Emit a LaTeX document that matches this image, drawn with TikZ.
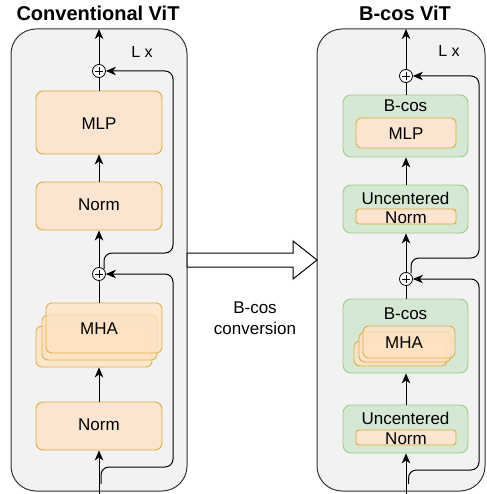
\documentclass[tikz,border=0pt]{standalone}
\usepackage{fontspec}
\setmainfont{Liberation Sans}
\usetikzlibrary{arrows.meta}
\definecolor{contfill}{HTML}{F2F2F2}
\definecolor{contdraw}{HTML}{333333}
\definecolor{ofill}{HTML}{FBE5D1}
\definecolor{odraw}{HTML}{E0A93A}
\definecolor{stackfill}{HTML}{FFE2C2}
\definecolor{gfill}{HTML}{D5E8D4}
\definecolor{gdraw}{HTML}{9CCB86}
\tikzset{
  cont/.style={draw=contdraw, fill=contfill, line width=1pt, rounded corners=25pt},
  obox/.style={draw=odraw, fill=ofill, line width=0.9pt, rounded corners=7pt, inner sep=0pt},
  sbox/.style={draw=odraw, fill=stackfill, fill opacity=0.75, draw opacity=0.9, line width=0.9pt, rounded corners=6pt, inner sep=0pt},
  gbox/.style={draw=gdraw, fill=gfill, line width=0.9pt, rounded corners=8pt, inner sep=0pt},
  ibox/.style={draw=odraw, fill=ofill, line width=0.9pt, rounded corners=3pt, inner sep=0pt},
  txt/.style={font=\fontsize{17}{20}\selectfont, inner sep=0pt, text height=12.2pt, text depth=0pt},
  ttl/.style={font=\fontsize{20}{24}\selectfont\bfseries, inner sep=0pt, text height=14.4pt, text depth=0pt},
  lx/.style={font=\fontsize{16}{19}\selectfont, inner sep=0pt, text height=11.5pt, text depth=0pt},
  plus/.style={circle, draw=black, fill=white, line width=0.8pt, minimum size=13pt, inner sep=0pt,
    path picture={\draw[line width=0.8pt] ([xshift=-4pt]path picture bounding box.center) -- ([xshift=4pt]path picture bounding box.center);
                  \draw[line width=0.8pt] ([yshift=-4pt]path picture bounding box.center) -- ([yshift=4pt]path picture bounding box.center);}},
  conn/.style={line width=1pt, draw=black},
  arr/.style={conn, -{Stealth[length=10pt,width=8.5pt,inset=3pt]}},
  skip/.style={arr, rounded corners=8pt},
}
\begin{document}
\begin{tikzpicture}[x=1pt,y=-1pt]
\useasboundingbox (0,0) rectangle (486,494);

% ---------------- titles
\node[ttl] (t1) at (98,13) {Conventional ViT};
\node[ttl] (t2) at (405,13) {B-cos ViT};

% ---------------- containers
\path[cont] (11,29) rectangle (187,491);
\path[cont] (317,29) rectangle (485,491);
\node[lx] (lx1) at (142,52) {L x};
\node[lx] (lx2) at (449,51) {L x};

% ---------------- left column
\coordinate (ltop) at (99,29);
\coordinate (lbot) at (99,494);
\node[plus] (lp1) at (99,71) {};
\node[plus] (lp2) at (99,274) {};
\node[obox, minimum width=126pt, minimum height=63pt] (lmlp) at (99,122.5) {};
\node[txt] at (99,123) {MLP};
\node[obox, minimum width=126pt, minimum height=48pt] (lnorm1) at (99,206) {};
\node[txt] at (99,204) {Norm};
\node[sbox, minimum width=116pt, minimum height=41pt] (lmha3) at (94,346.5) {};
\node[sbox, minimum width=115pt, minimum height=45pt] (lmha2) at (99.5,337.5) {};
\node[sbox, minimum width=116pt, minimum height=50pt] (lmha1) at (104,328) {};
\node[txt] at (99,328) {MHA};
\node[obox, minimum width=126pt, minimum height=48pt] (lnorm2) at (99,426) {};
\node[txt] at (99,424.5) {Norm};

\draw[arr] (lbot) -- (lnorm2.south);
\draw[arr] (lnorm2.north) -- (lmha3.south -| lnorm2.north);
\draw[conn] (lmha1.north -| lp2) -- (lp2.south);
\draw[arr] (lp2.north) -- (lnorm1.south);
\draw[arr] (lnorm1.north) -- (lmlp.south);
\draw[conn] (lmlp.north) -- (lp1.south);
\draw[arr] (lp1.north) -- (ltop);

\coordinate (ls1) at (101,484);
\coordinate (ls2) at (104,269);
\draw[skip] (ls1) -- (101,467) -- (173,467) -- (173,274) -- (lp2.east);
\draw[skip] (ls2) -- (104,253) -- (173,253) -- (173,71) -- (lp1.east);

% ---------------- right column
\coordinate (rtop) at (406,29);
\coordinate (rbot) at (406,494);
\node[plus] (rp1) at (406,76) {};
\node[plus] (rp2) at (406,279) {};

\node[gbox, minimum width=125pt, minimum height=62pt] (rbmlp) at (405.5,126) {};
\node[txt] at (405.5,105) {B-cos};
\node[ibox, minimum width=100pt, minimum height=30pt, rounded corners=5pt] (rmlp) at (406,133) {};
\node[txt] at (rmlp.center) {MLP};

\node[gbox, minimum width=125pt, minimum height=48pt] (run1) at (405.5,209) {};
\node[txt] at (405.5,198) {Uncentered};
\node[ibox, minimum width=100pt, minimum height=15pt] (rn1) at (406,216.5) {};
\node[txt] at (406,217) {Norm};

\node[gbox, minimum width=125pt, minimum height=74pt] (rbmha) at (405.5,336) {};
\node[txt] at (405.5,313) {B-cos};
\node[sbox, minimum width=93pt, minimum height=25pt] (rmha3) at (400.5,353.5) {};
\node[sbox, minimum width=92pt, minimum height=30pt] (rmha2) at (405,347) {};
\node[sbox, minimum width=92pt, minimum height=32pt] (rmha1) at (409,342) {};
\node[txt] at (404,342) {MHA};

\node[gbox, minimum width=125pt, minimum height=48pt] (run2) at (405.5,429) {};
\node[txt] at (405.5,418) {Uncentered};
\node[ibox, minimum width=100pt, minimum height=15pt] (rn2) at (406,437.5) {};
\node[txt] at (406,438) {Norm};

\draw[arr] (rbot) -- (run2.south -| rbot);
\draw[arr] (run2.north -| rbot) -- (rbmha.south -| rbot);
\draw[conn] (rbmha.north -| rbot) -- (rp2.south);
\draw[arr] (rp2.north) -- (run1.south -| rbot);
\draw[arr] (run1.north -| rbot) -- (rbmlp.south -| rbot);
\draw[conn] (rbmlp.north -| rbot) -- (rp1.south);
\draw[arr] (rp1.north) -- (rtop);

\coordinate (rs1) at (408.5,484);
\coordinate (rs2) at (411,273);
\draw[skip] (rs1) -- (408.5,470) -- (479,470) -- (479,279) -- (rp2.east);
\draw[skip] (rs2) -- (411,258) -- (479,258) -- (479,76) -- (rp1.east);

% ---------------- conversion arrow
\draw[conn, fill=white] (187,253) -- (293,253) -- (293,241) -- (317,260) -- (293,279) -- (293,267) -- (187,267) -- cycle;
\node[txt] (c1) at (255,307) {B-cos};
\node[txt] (c2) at (255,328) {conversion};
\end{tikzpicture}
\end{document}
